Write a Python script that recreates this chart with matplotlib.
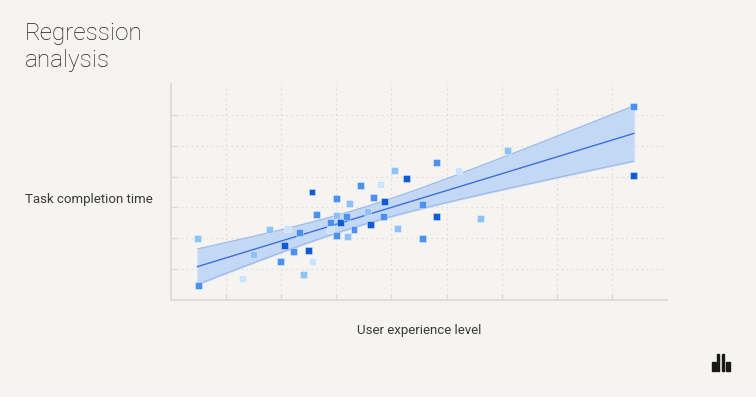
import numpy as np
import matplotlib.pyplot as plt
from matplotlib.patches import Rectangle

# datos (unidades del eje, sin etiquetas)
x = [0.48, 0.50, 1.30, 1.50, 1.78, 1.98, 2.06, 2.12, 2.23, 2.34, 2.41,
     2.49, 2.57, 2.56, 2.64, 2.90, 2.89, 3.01, 3.01, 3.01, 3.07, 3.18,
     3.21, 3.24, 3.32, 3.44, 3.56, 3.62, 3.67, 3.80, 3.87, 3.85, 4.06,
     4.11, 4.28, 4.81, 4.56, 4.57, 4.81, 5.21, 5.61, 6.10, 8.40, 8.40]
y = [2.00, 0.46, 0.71, 1.48, 2.30, 1.26, 1.78, 2.31, 1.56, 2.19, 0.82,
     1.59, 1.24, 3.50, 2.76, 2.52, 2.27, 3.30, 2.73, 2.08, 2.50, 2.70,
     2.06, 3.13, 2.27, 3.70, 2.88, 2.46, 3.31, 3.74, 3.20, 2.70, 4.20,
     2.31, 3.94, 4.47, 3.10, 1.99, 2.71, 4.19, 2.63, 4.84, 6.26, 4.03]
# tono de cada punto: 0 muy claro, 1 claro, 2 medio, 3 oscuro
tono = [1, 2, 0, 1, 1, 2, 3, 0, 2, 2, 1,
        3, 0, 3, 2, 2, 0, 2, 1, 2, 3, 2,
        1, 1, 2, 2, 1, 3, 2, 0, 3, 2, 1,
        1, 3, 2, 2, 2, 3, 0, 1, 1, 2, 3]
tamano = [25] * len(x)
tamano[13] = 14

colores = ['#cde2fb', '#8fc1f9', '#4b91f2', '#105cd6']
fondo = '#f5f4f0'

x = np.array(x)
y = np.array(y)

# recta de regresion e intervalo de confianza
pend, inter = np.polyfit(x, y, 1)
xs = np.linspace(x.min(), x.max(), 100)
ys = pend * xs + inter
n = len(x)
res = y - (pend * x + inter)
s = np.sqrt(np.sum(res ** 2) / (n - 2))
sxx = np.sum((x - x.mean()) ** 2)
se = s * np.sqrt(1 / n + (xs - x.mean()) ** 2 / sxx)
t = 2.5
banda_inf = ys - t * se
banda_sup = ys + t * se

fig = plt.figure(figsize=(7.56, 3.97), dpi=100, facecolor=fondo)
ax = fig.add_axes([0.2262, 0.2443, 0.6561, 0.5441])
ax.set_facecolor(fondo)

ax.fill_between(xs, banda_inf, banda_sup, color='#c3d8f4', zorder=2)
ax.plot(xs, banda_sup, color='#9cb9ea', lw=0.8, zorder=2)
ax.plot(xs, banda_inf, color='#9cb9ea', lw=0.8, zorder=2)
ax.plot([xs[0], xs[0]], [banda_inf[0], banda_sup[0]], color='#d7e5f7', lw=0.8, zorder=2)
ax.plot([xs[-1], xs[-1]], [banda_inf[-1], banda_sup[-1]], color='#d7e5f7', lw=0.8, zorder=2)
ax.plot(xs, ys, color='#3b70d8', lw=1.0, zorder=3)

ax.scatter(x, y, s=tamano, marker='s', c=[colores[k] for k in tono],
           edgecolors=(1, 1, 1, 0.5), linewidths=0.5, zorder=4)

ax.set_xlim(0, 9)
ax.set_ylim(0, 7)
ax.set_xticks(range(1, 9))
ax.set_yticks(range(1, 7))
ax.set_xticklabels([])
ax.set_yticklabels([])
ax.tick_params(direction='in', length=4, width=1, color='#dddbd6')
ax.grid(True, color='#dedcd8', linestyle=(0, (1.5, 3)), linewidth=0.8, zorder=0)
for lado in ['top', 'right']:
    ax.spines[lado].set_visible(False)
for lado in ['left', 'bottom']:
    ax.spines[lado].set_color('#dddbd6')
    ax.spines[lado].set_linewidth(1.3)

ax.set_xlabel('User experience level', fontsize=9.5, color='#3a3a3a',
              fontfamily='Roboto', labelpad=14)

fig.text(25 / 756, 1 - 22 / 397, 'Regression\nanalysis', fontsize=17.5,
         fontfamily='Roboto', fontweight='light', color='#1f1f1f',
         va='top', ha='left', linespacing=1.2)
fig.text(25 / 756, 1 - 199 / 397, 'Task completion time', fontsize=9.5,
         fontfamily='Roboto', color='#3a3a3a', va='center', ha='left')

# logo
for (x0, y0, w, h) in [(712, 362, 4.0, 8.5), (717.3, 354, 1.8, 16.5),
                       (722, 354, 1.8, 16.5), (726.2, 362, 4.0, 8.5)]:
    fig.patches.append(Rectangle((x0 / 756, 1 - (y0 + h) / 397), w / 756, h / 397,
                                 transform=fig.transFigure, color='#1a1a1a'))

fig.savefig('out.png', dpi=100, facecolor=fondo)
